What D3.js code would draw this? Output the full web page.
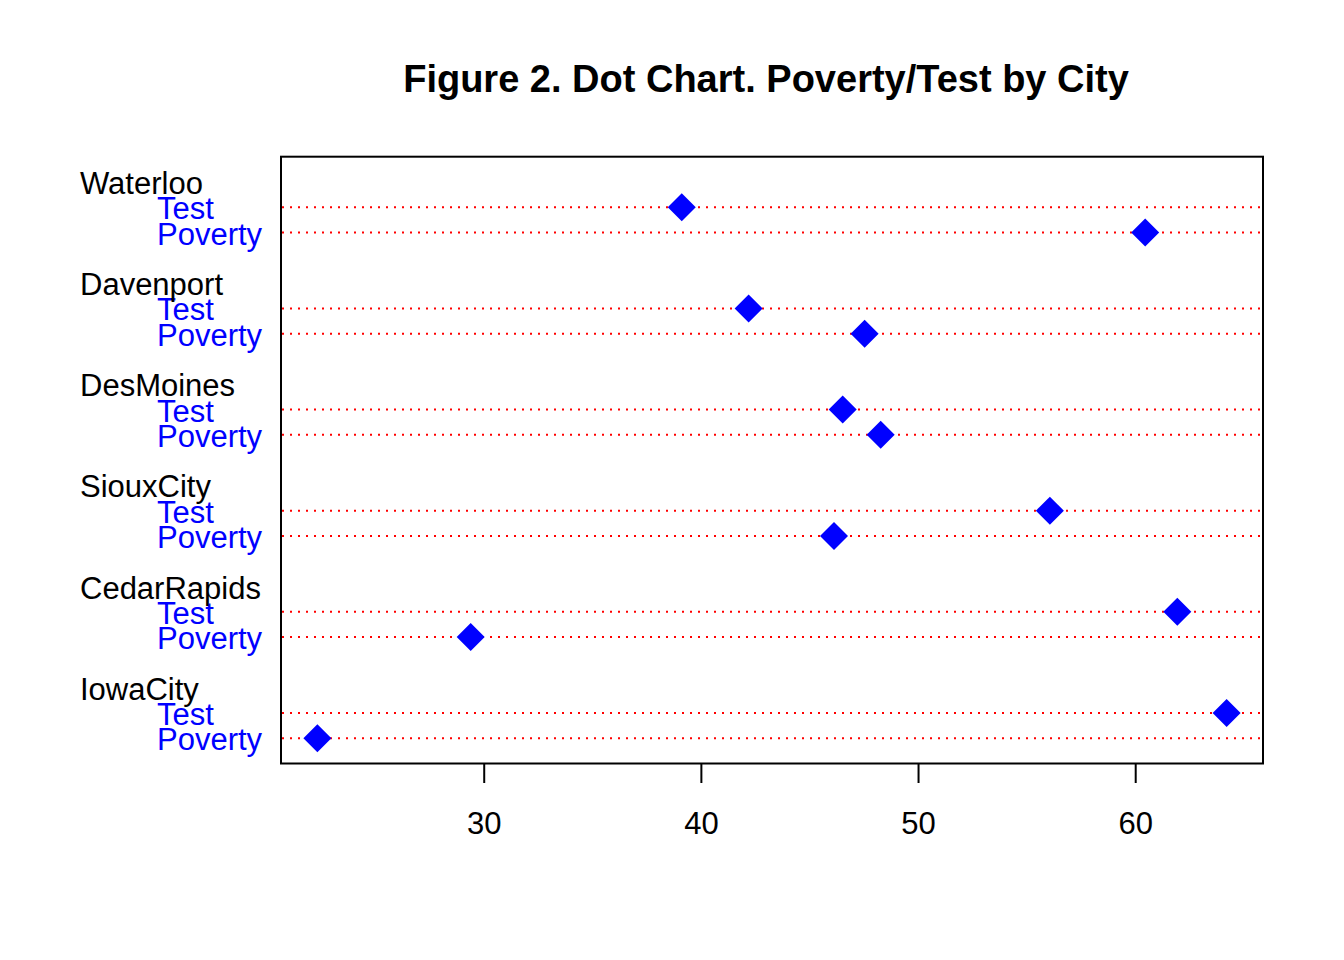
<!DOCTYPE html>
<html>
<head>
<meta charset="utf-8">
<script src="https://cdn.jsdelivr.net/npm/d3@7"></script>
<style>
  html, body { margin: 0; padding: 0; background: #ffffff; }
  svg { display: block; }
  text { font-family: "Liberation Sans", Arial, sans-serif; }
</style>
</head>
<body>
<svg id="chart" width="1344" height="960"></svg>
<script>
// ---- data (top-to-bottom order as shown) ----
const cities = ["Waterloo", "Davenport", "DesMoines", "SiouxCity", "CedarRapids", "IowaCity"];
const measures = ["Test", "Poverty"];
const testValues = [39.12, 42.20, 46.53, 56.07, 61.94, 64.21];
const povertyValues = [60.46, 47.54, 48.28, 46.13, 29.40, 22.34];
const xTicks = [30, 40, 50, 60];
const title = "Figure 2. Dot Chart. Poverty/Test by City";

// ---- layout ----
const W = 1344, H = 960;
const plot = { left: 281, right: 1263, top: 156.7, bottom: 763.5 };
const labelFont = 31, titleFont = 38;

const svg = d3.select("#chart");
svg.append("rect").attr("width", W).attr("height", H).attr("fill", "#ffffff");

// x scale: R-style 4% extension of data range
const allVals = testValues.concat(povertyValues);
const [mn, mx] = d3.extent(allVals);
const pad = (mx - mn) * 0.04;
const x = d3.scaleLinear().domain([mn - pad, mx + pad]).range([plot.left, plot.right]);

// y scale: lines in R dotchart units
const nGroups = cities.length;
const totalLines = nGroups * 2 + (nGroups - 1) * 2 + 2; // 24
const y = d3.scaleLinear().domain([0, totalLines]).range([plot.bottom, plot.top]);

// Build rows
const rows = [];
const groups = [];
cities.forEach((c, gi) => {
  const fromBottom = nGroups - 1 - gi;
  const base = 4 * fromBottom;
  groups.push({ city: c, pos: base + 3 });
  rows.push({ city: c, measure: measures[0], value: testValues[gi], pos: base + 2 });
  rows.push({ city: c, measure: measures[1], value: povertyValues[gi], pos: base + 1 });
});

// dotted reference lines
svg.append("g").selectAll("line").data(rows).join("line")
  .attr("x1", plot.left + 1).attr("x2", plot.right - 1)
  .attr("y1", d => y(d.pos)).attr("y2", d => y(d.pos))
  .attr("stroke", "#ff0000").attr("stroke-width", 2)
  .attr("stroke-dasharray", "2,6");

// diamonds
const diamond = d3.symbol().type(d3.symbolSquare).size(392);
svg.append("g").selectAll("path").data(rows).join("path")
  .attr("d", diamond)
  .attr("transform", d => `translate(${x(d.value)},${y(d.pos)}) rotate(45)`)
  .attr("fill", "#0000ff");

// box
svg.append("rect")
  .attr("x", plot.left).attr("y", plot.top)
  .attr("width", plot.right - plot.left).attr("height", plot.bottom - plot.top)
  .attr("fill", "none").attr("stroke", "#000").attr("stroke-width", 2);

// x axis
const axis = d3.axisBottom(x).tickValues(xTicks).tickSize(19.5).tickPadding(0).tickFormat(d3.format("d"));
const gx = svg.append("g").attr("transform", `translate(0,${plot.bottom})`).call(axis);
gx.select(".domain").remove();
gx.selectAll(".tick line").attr("stroke", "#000").attr("stroke-width", 2);
gx.selectAll(".tick text")
  .attr("y", 70).attr("dy", null)
  .attr("fill", "#000")
  .style("font-size", labelFont + "px")
  .style("font-family", '"Liberation Sans", Arial, sans-serif');

// item labels (blue, left aligned at an inner offset)
svg.append("g").selectAll("text").data(rows).join("text")
  .attr("x", 157).attr("y", d => y(d.pos) + 12)
  .attr("text-anchor", "start")
  .attr("fill", "#0000ff")
  .style("font-size", labelFont + "px")
  .text(d => d.measure);

// group labels (black, left aligned)
svg.append("g").selectAll("text").data(groups).join("text")
  .attr("x", 80).attr("y", d => y(d.pos) + 12)
  .attr("text-anchor", "start")
  .attr("fill", "#000")
  .style("font-size", labelFont + "px")
  .text(d => d.city);

// title
svg.append("text")
  .attr("x", 766).attr("y", 92)
  .attr("text-anchor", "middle")
  .attr("font-weight", "bold")
  .style("font-size", titleFont + "px")
  .attr("fill", "#000")
  .text(title);
</script>
</body>
</html>
